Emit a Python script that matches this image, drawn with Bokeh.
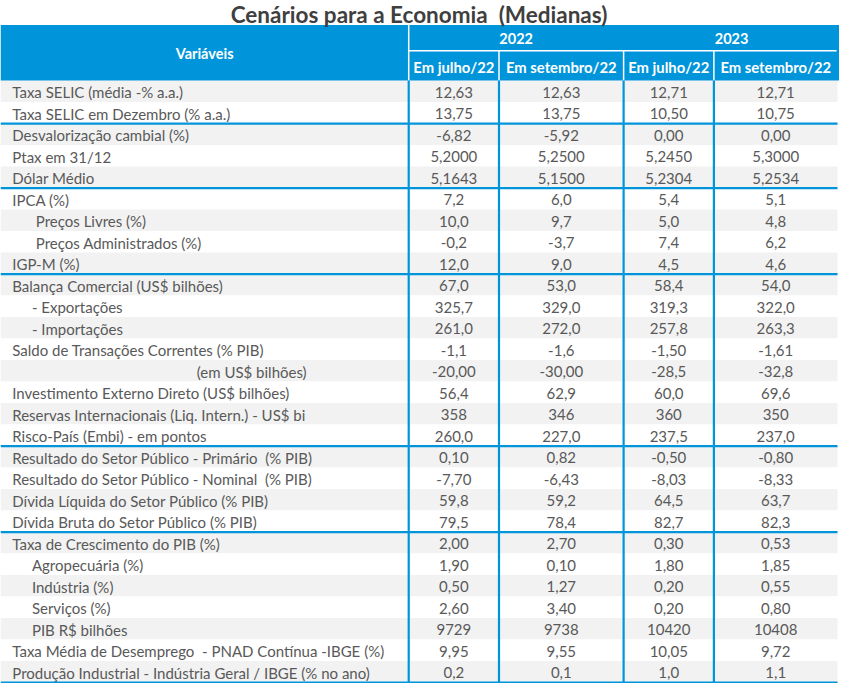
from bokeh.plotting import figure
from bokeh.models import ColumnDataSource, Range1d
from bokeh.core.properties import value
from bokeh.embed import file_html
from bokeh.resources import INLINE

# ---------------- data ----------------
title = "Cenários para a Economia \u00a0(Medianas)"
col_header = "Variáveis"
years = ["2022", "2023"]
sub_headers = ["Em julho/22", "Em setembro/22", "Em julho/22", "Em setembro/22"]

variables = [
    "Taxa SELIC (média -% a.a.)",
    "Taxa SELIC em Dezembro (% a.a.)",
    "Desvalorização cambial (%)",
    "Ptax em 31/12",
    "Dólar Médio",
    "IPCA (%)",
    "Preços Livres (%)",
    "Preços Administrados (%)",
    "IGP-M (%)",
    "Balança Comercial (US$ bilhões)",
    "- Exportações",
    "- Importações",
    "Saldo de Transações Correntes (% PIB)",
    "(em US$ bilhões)",
    "Investimento Externo Direto (US$ bilhões)",
    "Reservas Internacionais (Liq. Intern.) - US$ bi",
    "Risco-País (Embi) - em pontos",
    "Resultado do Setor Público - Primário \u00a0(% PIB)",
    "Resultado do Setor Público - Nominal \u00a0(% PIB)",
    "Dívida Líquida do Setor Público (% PIB)",
    "Dívida Bruta do Setor Público (% PIB)",
    "Taxa de Crescimento do PIB (%)",
    "Agropecuária (%)",
    "Indústria (%)",
    "Serviços (%)",
    "PIB R$ bilhões",
    "Taxa Média de Desemprego \u00a0- PNAD Contínua -IBGE (%)",
    "Produção Industrial - Indústria Geral / IBGE (% no ano)",
]

jul_2022 = ["12,63", "13,75", "-6,82", "5,2000", "5,1643", "7,2", "10,0", "-0,2", "12,0",
            "67,0", "325,7", "261,0", "-1,1", "-20,00", "56,4", "358", "260,0",
            "0,10", "-7,70", "59,8", "79,5", "2,00", "1,90", "0,50", "2,60", "9729", "9,95", "0,2"]
set_2022 = ["12,63", "13,75", "-5,92", "5,2500", "5,1500", "6,0", "9,7", "-3,7", "9,0",
            "53,0", "329,0", "272,0", "-1,6", "-30,00", "62,9", "346", "227,0",
            "0,82", "-6,43", "59,2", "78,4", "2,70", "0,10", "1,27", "3,40", "9738", "9,55", "0,1"]
jul_2023 = ["12,71", "10,50", "0,00", "5,2450", "5,2304", "5,4", "5,0", "7,4", "4,5",
            "58,4", "319,3", "257,8", "-1,50", "-28,5", "60,0", "360", "237,5",
            "-0,50", "-8,03", "64,5", "82,7", "0,30", "1,80", "0,20", "0,20", "10420", "10,05", "1,0"]
set_2023 = ["12,71", "10,75", "0,00", "5,3000", "5,2534", "5,1", "4,8", "6,2", "4,6",
            "54,0", "322,0", "263,3", "-1,61", "-32,8", "69,6", "350", "237,0",
            "-0,80", "-8,33", "63,7", "82,3", "0,53", "1,85", "0,55", "0,80", "10408", "9,72", "1,1"]

# group boundaries (last row of each block, 1-based)
group_ends = [2, 5, 9, 17, 21, 28]

# ---------------- styling / layout (reference pixel units) ----------------
W, H = 855, 699
BLUE = "#0095DA"
GRAY_ROW = "#F2F2F2"
TXT = "#595959"
FONT = value("Lato")
BODY_FS = "15px"
col_edges = [0, 416, 508, 635, 727, 853]
hdr_top, hdr_mid, body_top, row_h = 25, 51.5, 82, 22
label_indent = [0] * len(variables)
for i in (6, 7):
    label_indent[i] = 24
for i in (10, 11, 22, 23, 24, 25):
    label_indent[i] = 20
label_indent[13] = 188
shaded = [True, False, True, False, True, False, True, False, True, True, False, True, False, True,
          False, True, False, True, False, True, False, True, False, True, False, True, False, True]

p = figure(width=839, height=683, output_backend="svg", toolbar_location=None,
           x_range=Range1d(0, W), y_range=Range1d(H, 0), min_border=0)
p.axis.visible = False
p.grid.visible = False
p.outline_line_color = None
p.background_fill_color = "white"
p.border_fill_color = "white"

n = len(variables)
row_y = [body_top + row_h * i + row_h / 2 for i in range(n)]

# row backgrounds
bg = ColumnDataSource(dict(
    x=[col_edges[-1] / 2] * n, y=row_y, w=[col_edges[-1]] * n, h=[row_h] * n,
    c=[GRAY_ROW if s else "white" for s in shaded]))
p.rect(x="x", y="y", width="w", height="h", fill_color="c", line_color=None, source=bg)

# header block
p.quad(left=0, right=W, top=hdr_top, bottom=body_top, fill_color=BLUE, line_color=None)
# header white rules
p.segment(x0=[416], y0=[hdr_top], x1=[416], y1=[body_top], line_color="white", line_width=1.5)
p.segment(x0=[416], y0=[hdr_mid], x1=[852], y1=[hdr_mid], line_color="white", line_width=1.5)
p.segment(x0=[508, 635, 727], y0=[hdr_mid] * 3, x1=[508, 635, 727], y1=[body_top] * 3,
          line_color="white", line_width=1.5)

# title
p.text(x=[W / 2 - 1], y=[14], text=[title], text_font=FONT, text_font_style="bold",
       text_font_size="22.5px", text_color="#3F3F3F", text_align="center", text_baseline="middle")

# header texts
p.text(x=[208], y=[54], text=[col_header], text_font=FONT, text_font_style="bold",
       text_font_size="14.5px", text_color="white", text_align="center", text_baseline="middle")
p.text(x=[(416 + 635) / 2, (635 + 855) / 2], y=[39, 39], text=years, text_font=FONT,
       text_font_style="bold", text_font_size="14.5px", text_color="white",
       text_align="center", text_baseline="middle")
centers = [(col_edges[i] + col_edges[i + 1]) / 2 for i in range(1, 5)]
p.text(x=centers, y=[68] * 4, text=sub_headers, text_font=FONT, text_font_style="bold",
       text_font_size="14.8px", text_color="white", text_align="center", text_baseline="middle")

# body text
src = ColumnDataSource(dict(
    lx=[12 + d for d in label_indent], y=[v + 1 for v in row_y], label=variables,
    a=jul_2022, b=set_2022, c=jul_2023, d=set_2023))
p.text(x="lx", y="y", text="label", source=src, text_font=FONT, text_font_size=BODY_FS,
       text_color=TXT, text_align="left", text_baseline="middle")
for cx, key in zip(centers, ["a", "b", "c", "d"]):
    p.text(x=cx, y="y", text=key, source=src, text_font=FONT, text_font_size=BODY_FS,
           text_color=TXT, text_align="center", text_baseline="middle")

# blue rules
hy = [body_top + row_h * g for g in group_ends]
p.segment(x0=[0] * len(hy), y0=hy, x1=[853] * len(hy), y1=hy, line_color=BLUE, line_width=2.2)
vx = [416, 508, 635, 727]
p.segment(x0=vx, y0=[body_top] * 4, x1=vx, y1=[body_top + row_h * n] * 4,
          line_color=BLUE, line_width=2.2)

open("out.html", "w").write(file_html(p, INLINE))
